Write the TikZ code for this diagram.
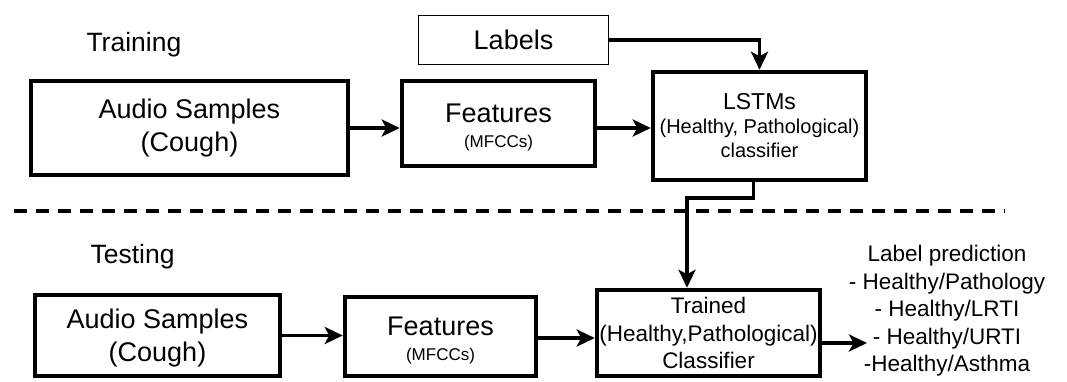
\documentclass[tikz,border=0pt]{standalone}
\usepackage{fontspec}
\setmainfont{Liberation Sans}
\usepackage{xcolor}
\usepackage{tikz}
\usetikzlibrary{arrows.meta}
\definecolor{ink}{HTML}{000000}
\tikzset{
  blk/.style={draw=ink, line width=4.5pt, align=center, inner sep=0pt},
  lblbox/.style={draw=ink, line width=1.8pt, align=center, inner sep=0pt},
  conn/.style={draw=ink, line width=3.6pt, -{Stealth[length=18pt,width=17pt,inset=4.5pt]}},
  divider/.style={draw=ink, line width=3.4pt, dash pattern=on 13pt off 9pt},
  big/.style={font=\fontsize{27}{33}\selectfont},
  feat/.style={font=\fontsize{27}{30}\selectfont},
  sect/.style={font=\fontsize{26.5}{32}\selectfont, anchor=base west},
  mid/.style={font=\fontsize{20}{24}\selectfont}
}

\begin{document}
\begin{tikzpicture}[x=1pt, y=-1pt, line join=miter]
  \useasboundingbox (0,0) rectangle (1067,381);

  \node[sect] (train) at (83,51) {Training};
  \node[sect] (test) at (87,263) {Testing};

  \node[lblbox, big, minimum width=190pt, minimum height=49pt] (labels) at (513.5,40) {Labels};
  \node[blk, big, minimum width=317pt, minimum height=94pt] (audioA) at (189.5,128) {Audio Samples\\(Cough)};
  \node[blk, feat, minimum width=193pt, minimum height=85pt] (featA) at (498.5,123.5)
    {\rule{0pt}{27pt}Features\\[-5pt]{\fontsize{17}{20}\selectfont (MFCCs)}};
  \node[blk, mid, minimum width=213pt, minimum height=108pt] (lstm) at (759.5,126)
    {{\fontsize{23}{24}\selectfont LSTMs}\\(Healthy, Pathological)\\classifier};

  \draw[divider] (14,211) -- (1005,211);

  \node[blk, big, minimum width=245pt, minimum height=81pt] (audioB) at (157.5,335.5) {\rule{0pt}{25pt}Audio Samples\\(Cough)};
  \node[blk, feat, minimum width=191pt, minimum height=79pt] (featB) at (440.5,336.5)
    {\rule{0pt}{27pt}Features\\[-5pt]{\fontsize{17}{20}\selectfont (MFCCs)}};
  \node[blk, font=\fontsize{22.5}{27.5}\selectfont, minimum width=223pt, minimum height=86pt] (trained) at (708.5,333)
    {Trained\\(Healthy,Pathological)\\Classifier};
  \node[align=center, inner sep=0pt, font=\fontsize{22.5}{27.5}\selectfont] (pred) at (947,311)
    {Label prediction\\- Healthy/Pathology\\- Healthy/LRTI\\- Healthy/URTI\\-Healthy/Asthma};
  \coordinate (predin) at (867,343);

  \draw[conn] (audioA.east) -- (audioA.east -| featA.west);
  \draw[conn] (featA.east |- audioA.east) -- (audioA.east -| lstm.west);
  \draw[conn] (labels.east) -| (lstm.north);
  \draw[conn] ([xshift=-6pt]lstm.south) -- ++(0,16) -| ([xshift=-21.5pt]trained.north);
  \draw[conn] (audioB.east) -- (audioB.east -| featB.west);
  \draw[conn] ([yshift=-1.5pt]featB.east) -- ([yshift=-1.5pt]featB.east -| trained.west);
  \draw[conn] (trained.east |- predin) -- (predin);
\end{tikzpicture}
\end{document}
